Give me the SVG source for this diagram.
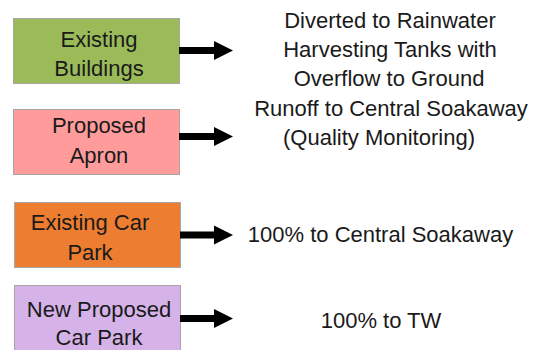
<svg xmlns="http://www.w3.org/2000/svg" width="533" height="350" viewBox="0 0 533 350">
<defs>
<style>
text{font-family:"Liberation Sans",Arial,sans-serif;font-size:22px;fill:#1a1a1a;text-anchor:middle}
.box{stroke:#a6a6a6;stroke-width:1}
.shaft{stroke:#000;stroke-width:7;fill:none}
.head{fill:#000}
</style>
</defs>
<rect width="533" height="350" fill="#fff"/>
<g id="existing-buildings">
<rect class="box" x="13.5" y="18.5" width="166" height="65" fill="#9BBB59"/>
<text x="99" y="47">Existing</text>
<text x="99" y="76">Buildings</text>
</g>
<g id="proposed-apron">
<rect class="box" x="13.5" y="109.5" width="166" height="65" fill="#FF9B9B"/>
<text x="99" y="133">Proposed</text>
<text x="99" y="163">Apron</text>
</g>
<g id="existing-car-park">
<rect class="box" x="14.5" y="202.5" width="166" height="65" fill="#ED7D31"/>
<text x="90" y="230">Existing Car</text>
<text x="90" y="260">Park</text>
</g>
<g id="new-proposed-car-park">
<rect class="box" x="14.5" y="285.5" width="166" height="70" fill="#D5B3E8"/>
<text x="99" y="317">New Proposed</text>
<text x="99" y="345">Car Park</text>
</g>
<g id="outcome-1">
<text x="390" y="28">Diverted to Rainwater</text>
<text x="390" y="57">Harvesting Tanks with</text>
<text x="389" y="86">Overflow to Ground</text>
</g>
<g id="outcome-2">
<text x="391" y="116">Runoff to Central Soakaway</text>
<text x="379" y="145">(Quality Monitoring)</text>
</g>
<g id="outcome-3">
<text x="380.5" y="242">100% to Central Soakaway</text>
</g>
<g id="outcome-4">
<text x="381" y="328">100% to TW</text>
</g>
<g id="connectors">
<line class="shaft" x1="179" y1="50.5" x2="216" y2="50.5"/>
<polygon class="head" points="214,41 233,50.5 214,60"/>
<line class="shaft" x1="179" y1="136.5" x2="216" y2="136.5"/>
<polygon class="head" points="214,127 233,136.5 214,146"/>
<line class="shaft" x1="180" y1="235" x2="216" y2="235"/>
<polygon class="head" points="214,225.5 233,235 214,244.5"/>
<line class="shaft" x1="180" y1="318.5" x2="216" y2="318.5"/>
<polygon class="head" points="214,309 233,318.5 214,328"/>
</g>
</svg>
